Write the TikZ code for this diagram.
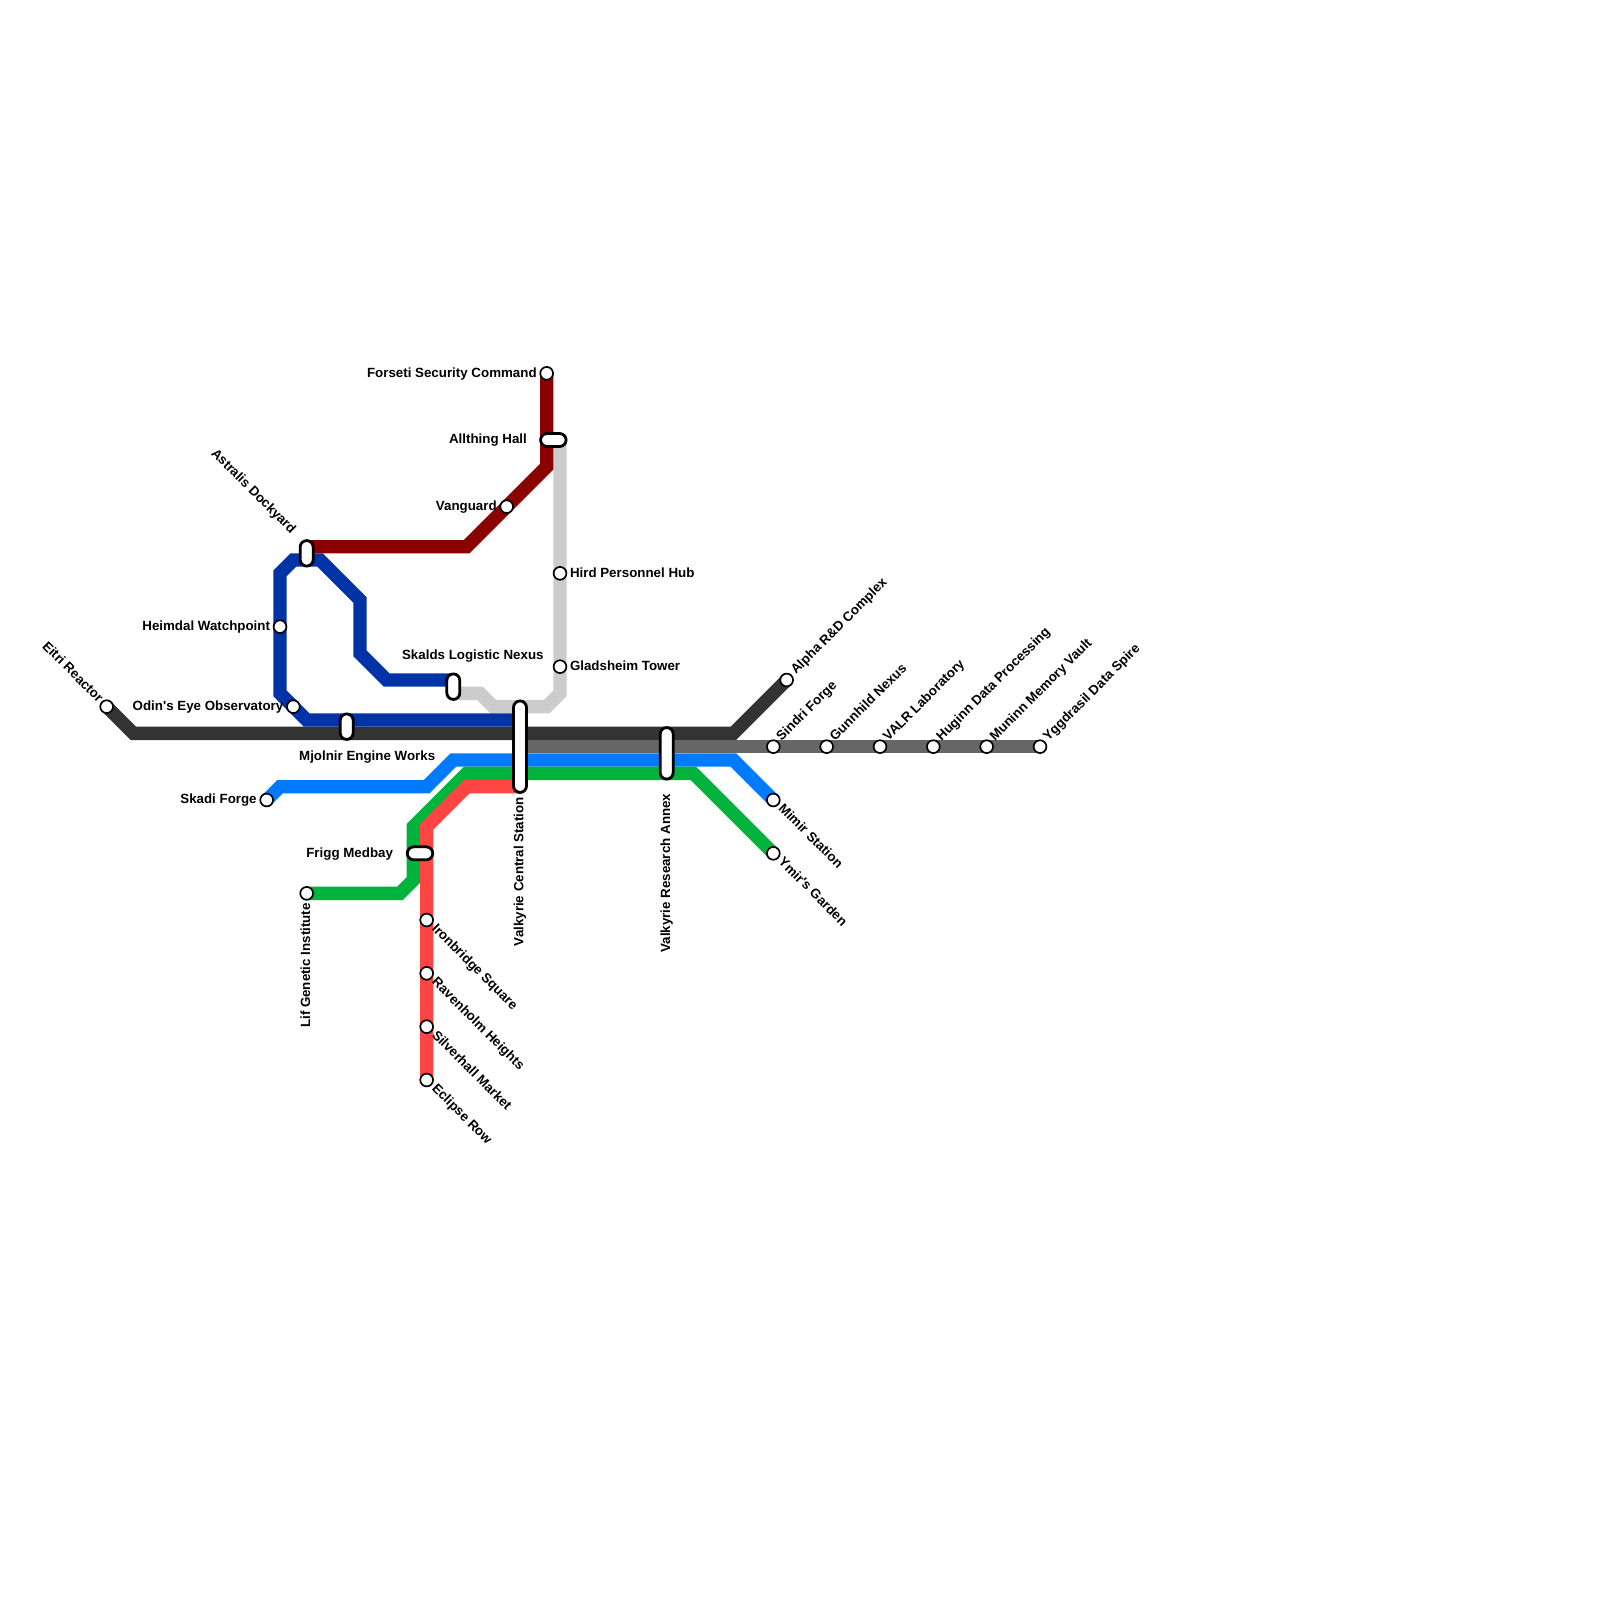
\documentclass[tikz,border=0pt]{standalone}
\usepackage{fontspec}
\setmainfont[Ligatures=TeXOff]{Liberation Sans}
\usetikzlibrary{backgrounds}
\definecolor{cDark}{HTML}{333333}
\definecolor{cGrey}{HTML}{666666}
\definecolor{cBlue}{HTML}{007BFF}
\definecolor{cGreen}{HTML}{00B33C}
\definecolor{cRed}{HTML}{FF4444}
\definecolor{cNavy}{HTML}{0033A6}
\definecolor{cMaroon}{HTML}{8B0000}
\definecolor{cLight}{HTML}{CCCCCC}
\tikzset{
  x=13.3333pt, y=-13.3333pt,
  metro/.style={line width=13.3333pt, line cap=butt, line join=miter, miter limit=10},
  stop/.style={circle, draw=black, fill=white, line width=1.7pt, minimum size=12.8pt, inner sep=0pt, outer sep=0pt},
  pill/.style={rectangle, draw=black, fill=white, line width=2.8pt, rounded corners=6.5pt, inner sep=0pt, outer sep=0pt},
  vpill/.style={pill, minimum width=13pt, minimum height=#1},
  hpill/.style={pill, minimum height=13pt, minimum width=#1},
  lab/.style={font=\fontsize{13.33}{15}\selectfont\bfseries, text=black, inner sep=0pt, outer sep=0pt, text height=9.4pt, text depth=2.6pt},
  labE/.style={lab, anchor=east, yshift=-0.5pt},
  labW/.style={lab, anchor=west, yshift=-0.5pt},
  labUR/.style={lab, anchor=west, rotate=45},
  labDR/.style={lab, anchor=west, rotate=-45},
  labUL/.style={lab, anchor=east, rotate=-45},
  labV/.style={lab, anchor=east, rotate=90},
}
\begin{document}
\begin{tikzpicture}
\useasboundingbox (0,0) rectangle (120,120);
% stations
\foreach \n/\p in {eitri/{8,53},alpha/{59,51},sindri/{58,56},gunnhild/{62,56},valr/{66,56},huginn/{70,56},muninn/{74,56},yggdrasil/{78,56},
  skadi/{20,60},mimir/{58,60},lif/{23,67},ymir/{58,64},ironbridge/{32,69},ravenholm/{32,73},silverhall/{32,77},eclipse/{32,81},
  forseti/{41,28},vanguard/{38,38},hird/{42,43},gladsheim/{42,50},heimdal/{21,47},odin/{22,53}}
  {\node[stop] (\n) at (\p) {};}
\node[vpill=25.5pt] (astralis) at (23,41.5) {};
\node[vpill=25.5pt] (skalds) at (34,51.5) {};
\node[vpill=25.5pt] (mjolnir) at (26,54.5) {};
\node[vpill=91.5pt] (central) at (39,56) {};
\node[vpill=51.5pt] (annex) at (50,56.5) {};
\node[hpill=25.5pt] (frigg) at (31.5,64) {};
\node[hpill=25.5pt] (allthing) at (41.5,33) {};
\coordinate (astralisM) at (23,41);
\coordinate (astralisN) at (23,42);
\coordinate (skaldsN) at (34,51);
\coordinate (skaldsL) at (34,52);
\coordinate (centralN) at (39,54);
\coordinate (centralG) at (39,56);
\coordinate (centralR) at (39,59);
\coordinate (allthingL) at (42,33);
% lines
\begin{pgfonlayer}{background}
\fill[white] (0,0) rectangle (120,120);
\draw[metro,cLight] (skaldsL) -- (35,52) -- (36,52) -- (37,53) -- (41,53) -- (42,52) -- (allthingL);
\draw[metro,cDark] (eitri.center) -- (10,55) -- (55,55) -- (alpha.center);
\draw[metro,cGrey] (centralG) -- (yggdrasil.center);
\draw[metro,cBlue] (skadi.center) -- (21,59) -- (32,59) -- (34,57) -- (55,57) -- (mimir.center);
\draw[metro,cGreen] (lif.center) -- (30,67) -- (31,66) -- (31,62) -- (35,58) -- (52,58) -- (ymir.center);
\draw[metro,cRed] (eclipse.center) -- (32,62) -- (35,59) -- (centralR);
\draw[metro,cMaroon] (forseti.center) -- (41,35) -- (35,41) -- (astralisM);
\draw[metro,cNavy] (astralisN) -- (22,42) -- (21,43) -- (21,52) -- (23,54) -- (centralN);
\draw[metro,cNavy] (astralisN) -- (24,42) -- (27,45) -- (27,49) -- (29,51) -- (skaldsN);
\end{pgfonlayer}
% labels
\node[labUL] (lEitri) at ([shift={(-6.5pt,6pt)}]eitri.center) {Eitri Reactor};
\node[labUR] (lAlpha) at ([shift={(7pt,7.5pt)}]alpha.center) {Alpha R\&D Complex};
\node[labUR] (lSindri) at ([shift={(6pt,7.5pt)}]sindri.center) {Sindri Forge};
\node[labUR] (lGunnhild) at ([shift={(6pt,7.5pt)}]gunnhild.center) {Gunnhild Nexus};
\node[labUR] (lValr) at ([shift={(6pt,7.5pt)}]valr.center) {VALR Laboratory};
\node[labUR] (lHuginn) at ([shift={(6pt,7.5pt)}]huginn.center) {Huginn Data Processing};
\node[labUR] (lMuninn) at ([shift={(6pt,7.5pt)}]muninn.center) {Muninn Memory Vault};
\node[labUR] (lYgg) at ([shift={(6pt,7.5pt)}]yggdrasil.center) {Yggdrasil Data Spire};
\node[labDR] (lMimir) at ([shift={(7pt,-7pt)}]mimir.center) {Mimir Station};
\node[labDR] (lYmir) at ([shift={(7pt,-7pt)}]ymir.center) {Ymir's Garden};
\node[labDR] (lIron) at ([shift={(7pt,-7pt)}]ironbridge.center) {Ironbridge Square};
\node[labDR] (lRaven) at ([shift={(7pt,-7pt)}]ravenholm.center) {Ravenholm Heights};
\node[labDR] (lSilver) at ([shift={(7pt,-7pt)}]silverhall.center) {Silverhall Market};
\node[labDR] (lEclipse) at ([shift={(7pt,-7pt)}]eclipse.center) {Eclipse Row};
\node[labE] (lSkadi) at ([xshift=-10pt]skadi.center) {Skadi Forge};
\node[labE] (lForseti) at ([xshift=-10pt]forseti.center) {Forseti Security Command};
\node[labE] (lVanguard) at ([xshift=-10pt]vanguard.center) {Vanguard};
\node[labE] (lHeimdal) at ([xshift=-10pt]heimdal.center) {Heimdal Watchpoint};
\node[labE] (lOdin) at ([xshift=-10pt]odin.center) {Odin's Eye Observatory};
\node[labW] (lHird) at ([xshift=10pt]hird.center) {Hird Personnel Hub};
\node[labW] (lGlad) at ([xshift=10pt]gladsheim.center) {Gladsheim Tower};
\node[labE] (lAllthing) at ([xshift=-26.5pt]allthing.center) {Allthing Hall};
\node[labE] (lFrigg) at ([xshift=-27pt]frigg.center) {Frigg Medbay};
\node[lab] (lSkalds) at ([shift={(19.5pt,30.5pt)}]skalds.center) {Skalds Logistic Nexus};
\node[lab] (lMjolnir) at ([shift={(20.5pt,-30pt)}]mjolnir.center) {Mjolnir Engine Works};
\node[labUL] (lAstralis) at ([shift={(-13.5pt,21.5pt)}]astralis.center) {Astralis Dockyard};
\node[labV] (lCentral) at ([yshift=-50.5pt]central.center) {Valkyrie Central Station};
\node[labV] (lAnnex) at ([yshift=-40.5pt]annex.center) {Valkyrie Research Annex};
\node[labV] (lLif) at ([yshift=-10pt]lif.center) {Lif Genetic Institute};
\end{tikzpicture}
\end{document}
